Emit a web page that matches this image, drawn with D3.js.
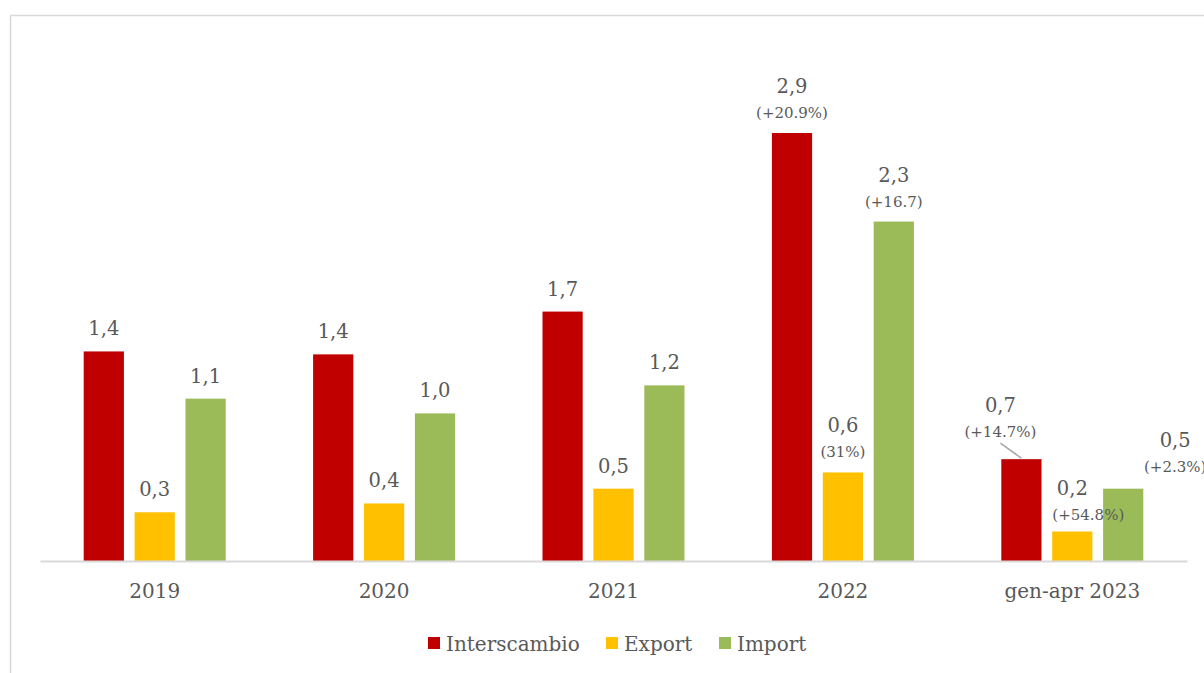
<!DOCTYPE html>
<html>
<head>
<meta charset="utf-8">
<script src="https://cdn.jsdelivr.net/npm/d3@7"></script>
<style>
  body { margin: 0; background: #fff; }
  text { font-family: "DejaVu Serif", serif; fill: #595959; }
</style>
</head>
<body>
<svg width="1204" height="673"></svg>
<script>
// categories and series
var categories = ["2019", "2020", "2021", "2022", "gen-apr 2023"];
var seriesNames = ["Interscambio", "Export", "Import"];
var seriesColors = ["#c00000", "#ffc000", "#9bbb59"];

var interscambio = [1.42, 1.40, 1.69, 2.90, 0.69];
var exportVals = [0.33, 0.39, 0.49, 0.60, 0.20];
var importVals = [1.10, 1.00, 1.19, 2.30, 0.49];

var interscambioLabels = ["1,4", "1,4", "1,7", "2,9", "0,7"];
var exportLabels = ["0,3", "0,4", "0,5", "0,6", "0,2"];
var importLabels = ["1,1", "1,0", "1,2", "2,3", "0,5"];

var interscambioPct = ["", "", "", "(+20.9%)", "(+14.7%)"];
var exportPct = ["", "", "", "(31%)", "(+54.8%)"];
var importPct = ["", "", "", "(+16.7)", "(+2.3%)"];

var values = [interscambio, exportVals, importVals];
var labels = [interscambioLabels, exportLabels, importLabels];
var pcts = [interscambioPct, exportPct, importPct];

var svg = d3.select("svg");

// chart frame
svg.append("rect")
    .attr("x", 10.5).attr("y", 15.5)
    .attr("width", 1250).attr("height", 700)
    .attr("fill", "none")
    .attr("stroke", "#d9d9d9")
    .attr("stroke-width", 1.5);

var baseY = 561;
var x0 = d3.scaleBand().domain(categories).range([40, 1187]).paddingInner(0).paddingOuter(0);
var x1 = d3.scaleBand().domain(seriesNames).range([0, 142]).paddingInner(0.21).paddingOuter(0);
var y = d3.scaleLinear().domain([0, 2.9]).range([baseY, 133]);

var g = svg.append("g");

seriesNames.forEach(function (s, si) {
    g.selectAll(".bar" + si)
        .data(values[si])
        .enter().append("rect")
        .attr("x", function (d, i) { return x0(categories[i]) + x0.bandwidth() / 2 - 71 + x1(s); })
        .attr("y", function (d) { return y(d); })
        .attr("width", x1.bandwidth())
        .attr("height", function (d) { return baseY - y(d); })
        .attr("fill", seriesColors[si]);
});

// baseline axis
var axis = svg.append("g")
    .attr("transform", "translate(0," + baseY + ")")
    .call(d3.axisBottom(x0).tickSize(0).tickPadding(23));
axis.select(".domain").attr("stroke", "#d9d9d9").attr("stroke-width", 2);
axis.selectAll("text")
    .style("font-family", "DejaVu Serif, serif")
    .style("font-size", "20px")
    .attr("fill", "#595959");

// label adjustments for crowded last group
var shift = {
    "0-4": [-21, -7],
    "1-4": [0, 4],
    "2-4": [52, -2]
};
var pctShift = {
    "1-4": [16, 0]
};

seriesNames.forEach(function (s, si) {
    values[si].forEach(function (v, i) {
        var cx = x0(categories[i]) + x0.bandwidth() / 2 - 71 + x1(s) + x1.bandwidth() / 2;
        var top = y(v);
        var off = shift[si + "-" + i] || [0, 0];
        var pOff = pctShift[si + "-" + i] || [0, 0];
        var hasPct = pcts[si][i] !== "";
        var valY = hasPct ? top - 40 : top - 16;
        g.append("text")
            .attr("x", cx + off[0])
            .attr("y", valY + off[1])
            .attr("text-anchor", "middle")
            .style("font-size", "19.5px")
            .text(labels[si][i]);
        if (hasPct) {
            g.append("text")
                .attr("x", cx + off[0] + pOff[0])
                .attr("y", top - 15 + off[1] + pOff[1])
                .attr("text-anchor", "middle")
                .style("font-size", "15px")
                .text(pcts[si][i]);
        }
    });
});

// leader line for gen-apr 2023 Interscambio
var lx = x0(categories[4]) + x0.bandwidth() / 2 - 71 + x1(seriesNames[0]) + x1.bandwidth() / 2;
g.append("line")
    .attr("x1", lx - 21).attr("y1", y(interscambio[4]) - 16)
    .attr("x2", lx).attr("y2", y(interscambio[4]) - 1)
    .attr("stroke", "#a6a6a6").attr("stroke-width", 1.5);

// legend
var legendX = [428, 606, 719];
var legend = svg.append("g");
seriesNames.forEach(function (s, i) {
    legend.append("rect")
        .attr("x", legendX[i]).attr("y", 637)
        .attr("width", 12).attr("height", 12)
        .attr("fill", seriesColors[i]);
    legend.append("text")
        .attr("x", legendX[i] + 18).attr("y", 651)
        .style("font-size", "20px")
        .text(s);
});
</script>
</body>
</html>
